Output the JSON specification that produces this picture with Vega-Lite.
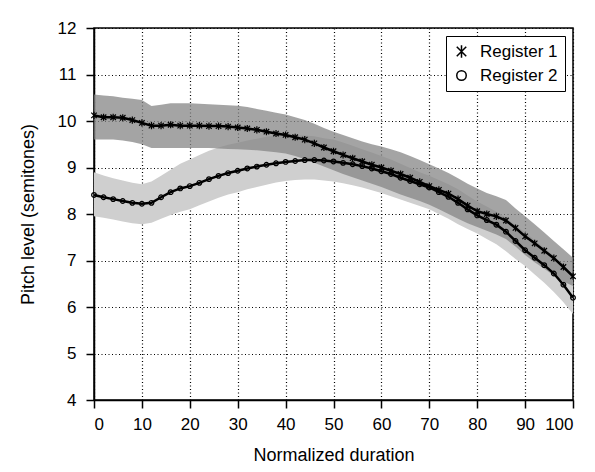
{
"$schema": "https://vega.github.io/schema/vega-lite/v6.json",
"width": 479, "height": 372,
"autosize": {"type": "none"},
"padding": {"left": 94, "top": 28, "right": 22, "bottom": 72},
"background": "white",
"config": {
  "font": "Liberation Sans",
  "view": {"stroke": "black", "strokeWidth": 1.5},
  "axis": {"grid": true, "gridColor": "black", "gridDash": [1, 2.5], "gridWidth": 1.2, "gridOpacity": 1,
    "domainColor": "black", "domainWidth": 1.5, "tickColor": "black", "tickWidth": 1.5, "tickSize": 8,
    "labelFontSize": 17, "labelColor": "black", "titleFontSize": 18, "titleFontWeight": "normal", "titleColor": "black"},
  "legend": {"orient": "top-right", "offset": 8, "strokeColor": "black", "fillColor": "white",
    "padding": 7, "labelFontSize": 17, "labelColor": "black", "symbolSize": 90, "symbolStrokeWidth": 1.5, "symbolStrokeColor": "black", "symbolFillColor": "transparent", "rowPadding": 5, "labelOffset": 10}
},
"datasets": {
"r1": [
{"x":0,"m":10.12,"lo":9.6,"hi":10.57},{"x":2,"m":10.08,"lo":9.6,"hi":10.55},{"x":4,"m":10.08,"lo":9.6,"hi":10.53},{"x":6,"m":10.07,"lo":9.58,"hi":10.5},{"x":8,"m":10.02,"lo":9.55,"hi":10.48},
{"x":10,"m":9.96,"lo":9.5,"hi":10.45},{"x":12,"m":9.9,"lo":9.42,"hi":10.32},{"x":14,"m":9.9,"lo":9.42,"hi":10.35},{"x":16,"m":9.92,"lo":9.42,"hi":10.38},{"x":18,"m":9.9,"lo":9.42,"hi":10.38},
{"x":20,"m":9.9,"lo":9.42,"hi":10.38},{"x":22,"m":9.9,"lo":9.42,"hi":10.37},{"x":24,"m":9.89,"lo":9.42,"hi":10.36},{"x":26,"m":9.89,"lo":9.41,"hi":10.35},{"x":28,"m":9.88,"lo":9.4,"hi":10.34},
{"x":30,"m":9.86,"lo":9.39,"hi":10.33},{"x":32,"m":9.84,"lo":9.38,"hi":10.3},{"x":34,"m":9.81,"lo":9.37,"hi":10.26},{"x":36,"m":9.77,"lo":9.35,"hi":10.22},{"x":38,"m":9.73,"lo":9.33,"hi":10.18},
{"x":40,"m":9.7,"lo":9.3,"hi":10.14},{"x":42,"m":9.65,"lo":9.25,"hi":10.08},{"x":44,"m":9.6,"lo":9.18,"hi":10.02},{"x":46,"m":9.52,"lo":9.1,"hi":9.94},{"x":48,"m":9.43,"lo":9.02,"hi":9.85},
{"x":50,"m":9.35,"lo":8.94,"hi":9.77},{"x":52,"m":9.27,"lo":8.86,"hi":9.7},{"x":54,"m":9.2,"lo":8.79,"hi":9.63},{"x":56,"m":9.13,"lo":8.72,"hi":9.56},{"x":58,"m":9.06,"lo":8.65,"hi":9.5},
{"x":60,"m":9.0,"lo":8.58,"hi":9.45},{"x":62,"m":8.93,"lo":8.5,"hi":9.39},{"x":64,"m":8.86,"lo":8.42,"hi":9.33},{"x":66,"m":8.78,"lo":8.35,"hi":9.25},{"x":68,"m":8.69,"lo":8.28,"hi":9.16},
{"x":70,"m":8.6,"lo":8.2,"hi":9.07},{"x":72,"m":8.52,"lo":8.1,"hi":8.98},{"x":74,"m":8.44,"lo":8.0,"hi":8.88},{"x":76,"m":8.32,"lo":7.9,"hi":8.77},{"x":78,"m":8.18,"lo":7.8,"hi":8.65},
{"x":80,"m":8.06,"lo":7.72,"hi":8.55},{"x":82,"m":8.0,"lo":7.64,"hi":8.45},{"x":84,"m":7.95,"lo":7.56,"hi":8.38},{"x":86,"m":7.86,"lo":7.46,"hi":8.3},{"x":88,"m":7.7,"lo":7.3,"hi":8.12},
{"x":90,"m":7.52,"lo":7.12,"hi":7.95},{"x":92,"m":7.37,"lo":6.96,"hi":7.78},{"x":94,"m":7.21,"lo":6.82,"hi":7.6},{"x":96,"m":7.05,"lo":6.68,"hi":7.42},{"x":98,"m":6.86,"lo":6.55,"hi":7.24},
{"x":100,"m":6.66,"lo":6.45,"hi":7.06}
],
"r2": [
{"x":0,"m":8.41,"lo":7.95,"hi":8.9},{"x":2,"m":8.36,"lo":7.92,"hi":8.83},{"x":4,"m":8.32,"lo":7.88,"hi":8.77},{"x":6,"m":8.28,"lo":7.84,"hi":8.72},{"x":8,"m":8.24,"lo":7.8,"hi":8.67},
{"x":10,"m":8.22,"lo":7.78,"hi":8.64},{"x":12,"m":8.24,"lo":7.81,"hi":8.7},{"x":14,"m":8.36,"lo":7.9,"hi":8.82},{"x":16,"m":8.47,"lo":7.98,"hi":8.95},{"x":18,"m":8.55,"lo":8.05,"hi":9.08},
{"x":20,"m":8.6,"lo":8.1,"hi":9.17},{"x":22,"m":8.67,"lo":8.19,"hi":9.27},{"x":24,"m":8.75,"lo":8.27,"hi":9.36},{"x":26,"m":8.82,"lo":8.35,"hi":9.43},{"x":28,"m":8.88,"lo":8.42,"hi":9.49},
{"x":30,"m":8.93,"lo":8.47,"hi":9.53},{"x":32,"m":8.98,"lo":8.53,"hi":9.58},{"x":34,"m":9.02,"lo":8.58,"hi":9.62},{"x":36,"m":9.06,"lo":8.63,"hi":9.66},{"x":38,"m":9.09,"lo":8.68,"hi":9.69},
{"x":40,"m":9.12,"lo":8.71,"hi":9.71},{"x":42,"m":9.14,"lo":8.73,"hi":9.7},{"x":44,"m":9.16,"lo":8.74,"hi":9.69},{"x":46,"m":9.16,"lo":8.74,"hi":9.67},{"x":48,"m":9.15,"lo":8.72,"hi":9.63},
{"x":50,"m":9.13,"lo":8.7,"hi":9.6},{"x":52,"m":9.1,"lo":8.66,"hi":9.54},{"x":54,"m":9.07,"lo":8.62,"hi":9.47},{"x":56,"m":9.03,"lo":8.57,"hi":9.39},{"x":58,"m":8.98,"lo":8.51,"hi":9.32},
{"x":60,"m":8.92,"lo":8.45,"hi":9.25},{"x":62,"m":8.86,"lo":8.38,"hi":9.17},{"x":64,"m":8.78,"lo":8.31,"hi":9.08},{"x":66,"m":8.71,"lo":8.24,"hi":8.99},{"x":68,"m":8.64,"lo":8.17,"hi":8.9},
{"x":70,"m":8.57,"lo":8.1,"hi":8.82},{"x":72,"m":8.47,"lo":8.0,"hi":8.73},{"x":74,"m":8.37,"lo":7.9,"hi":8.64},{"x":76,"m":8.24,"lo":7.78,"hi":8.53},{"x":78,"m":8.1,"lo":7.68,"hi":8.4},
{"x":80,"m":7.97,"lo":7.58,"hi":8.27},{"x":82,"m":7.87,"lo":7.46,"hi":8.16},{"x":84,"m":7.77,"lo":7.35,"hi":8.05},{"x":86,"m":7.62,"lo":7.2,"hi":7.92},{"x":88,"m":7.42,"lo":7.03,"hi":7.76},
{"x":90,"m":7.22,"lo":6.88,"hi":7.6},{"x":92,"m":7.06,"lo":6.7,"hi":7.44},{"x":94,"m":6.9,"lo":6.52,"hi":7.27},{"x":96,"m":6.72,"lo":6.32,"hi":7.1},{"x":98,"m":6.48,"lo":6.1,"hi":6.88},
{"x":100,"m":6.2,"lo":5.85,"hi":6.66}
]
},
"encoding": {
  "x": {"field": "x", "type": "quantitative", "scale": {"domain": [0, 100], "nice": false},
        "axis": {"values": [0,10,20,30,40,50,60,70,80,90,100], "labelPadding": 8, "title": "Normalized duration", "titlePadding": 14}}
},
"layer": [
  {"data": {"name": "r2"}, "mark": {"type": "area", "color": "#cfcfcf", "opacity": 1},
   "encoding": {"y": {"field": "lo", "type": "quantitative", "scale": {"domain": [4, 12], "nice": false},
      "axis": {"values": [4,5,6,7,8,9,10,11,12], "labelPadding": 10, "title": "Pitch level (semitones)", "titlePadding": 20}},
     "y2": {"field": "hi"}}},
  {"data": {"name": "r1"}, "mark": {"type": "area", "color": "#858585", "opacity": 0.75},
   "encoding": {"y": {"field": "lo", "type": "quantitative"}, "y2": {"field": "hi"}}},
  {"data": {"name": "r2"}, "mark": {"type": "line", "color": "black", "strokeWidth": 2.5},
   "encoding": {"y": {"field": "m", "type": "quantitative"}}},
  {"data": {"name": "r1"}, "mark": {"type": "line", "color": "black", "strokeWidth": 2.5},
   "encoding": {"y": {"field": "m", "type": "quantitative"}}},
  {"data": {"name": "r2"}, "transform": [{"calculate": "'Register 2'", "as": "reg"}],
   "mark": {"type": "point", "filled": false, "color": "black", "strokeWidth": 1.2, "size": 22, "opacity": 1},
   "encoding": {"y": {"field": "m", "type": "quantitative"},
     "shape": {"field": "reg", "type": "nominal", "scale": {"domain": ["Register 1", "Register 2"], "range": ["M-1,-1L1,1M-1,1L1,-1M0,-1.3L0,1.3", "circle"]},
       "legend": {"title": null}}}},
  {"data": {"name": "r1"}, "transform": [{"calculate": "'Register 1'", "as": "reg"}],
   "mark": {"type": "point", "filled": false, "color": "black", "strokeWidth": 1.2, "size": 30, "opacity": 1},
   "encoding": {"y": {"field": "m", "type": "quantitative"},
     "shape": {"field": "reg", "type": "nominal", "legend": {"title": null}}}}
]
}
